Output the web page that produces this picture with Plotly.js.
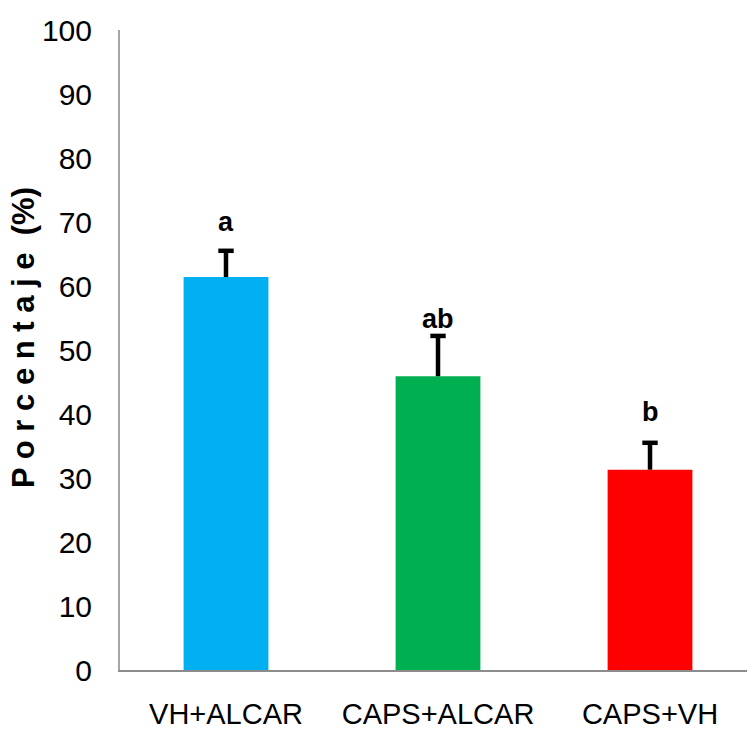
<!DOCTYPE html>
<html>
<head>
<meta charset="utf-8">
<script src="https://cdn.plot.ly/plotly-3.0.1.min.js"></script>
<style>html,body{margin:0;padding:0;background:#fff;}#chart{width:747px;height:731px;}</style>
</head>
<body>
<div id="chart"></div>
<script>
const categories = ["VH+ALCAR", "CAPS+ALCAR", "CAPS+VH"];
const values = [61.4, 45.9, 31.3];
const errors = [4.1, 6.3, 4.2];
const letters = ["a", "ab", "b"];
const letterShift = [12, 0, 14];
const colors = ["#00B0F0", "#00B050", "#FF0000"];
const yTicks = [0, 10, 20, 30, 40, 50, 60, 70, 80, 90, 100];

const bars = {
  type: "bar",
  x: categories,
  y: values,
  width: 0.4,
  marker: {color: colors},
  hoverinfo: "none"
};

// upper-only error bars: stems + top caps
const stemX = [], stemY = [];
categories.forEach((c, i) => { stemX.push(c, c, null); stemY.push(values[i], values[i] + errors[i], null); });
const stems = {
  type: "scatter", mode: "lines", x: stemX, y: stemY,
  line: {color: "#000", width: 4.5}, hoverinfo: "none", connectgaps: false
};
const caps = {
  type: "scatter", mode: "markers", x: categories, y: values.map((v, i) => v + errors[i]),
  marker: {symbol: "line-ew", size: 11, line: {color: "#000", width: 4.5}},
  hoverinfo: "none"
};

const annotations = categories.map((c, i) => ({
  x: c, y: values[i] + errors[i], xref: "x", yref: "y",
  text: letters[i], showarrow: false, yanchor: "bottom", yshift: letterShift[i],
  font: {family: "Liberation Sans, Arial, sans-serif", size: 27, color: "#000", weight: "bold"}
}));
annotations.push({
  xref: "paper", yref: "paper", x: -0.153, y: 0.519,
  text: "<b>P o r c e n t a j e  (%)</b>", textangle: -90, showarrow: false,
  xanchor: "center", yanchor: "middle",
  font: {family: "Liberation Sans, Arial, sans-serif", size: 31, color: "#000"}
});

const layout = {
  width: 747, height: 731,
  margin: {l: 120, r: 0, t: 30, b: 61, pad: 0},
  paper_bgcolor: "#fff", plot_bgcolor: "#fff",
  showlegend: false,
  xaxis: {
    type: "category", range: [-0.5, 2.4575],
    showline: true, linecolor: "#8c8c8c", linewidth: 2,
    showgrid: false, zeroline: false, ticks: "",
    ticklabelstandoff: 17,
    tickfont: {family: "Liberation Sans, Arial, sans-serif", size: 29, color: "#000"}
  },
  yaxis: {
    range: [0, 100], tickvals: yTicks, ticktext: yTicks.map(String),
    showline: true, linecolor: "#a6a6a6", linewidth: 2,
    showgrid: false, zeroline: false, ticks: "",
    ticklabelstandoff: 20,
    tickfont: {family: "Liberation Sans, Arial, sans-serif", size: 30, color: "#000"}
  },
  annotations: annotations
};

Plotly.newPlot("chart", [bars, stems, caps], layout, {displayModeBar: false, staticPlot: true});
</script>
</body>
</html>
